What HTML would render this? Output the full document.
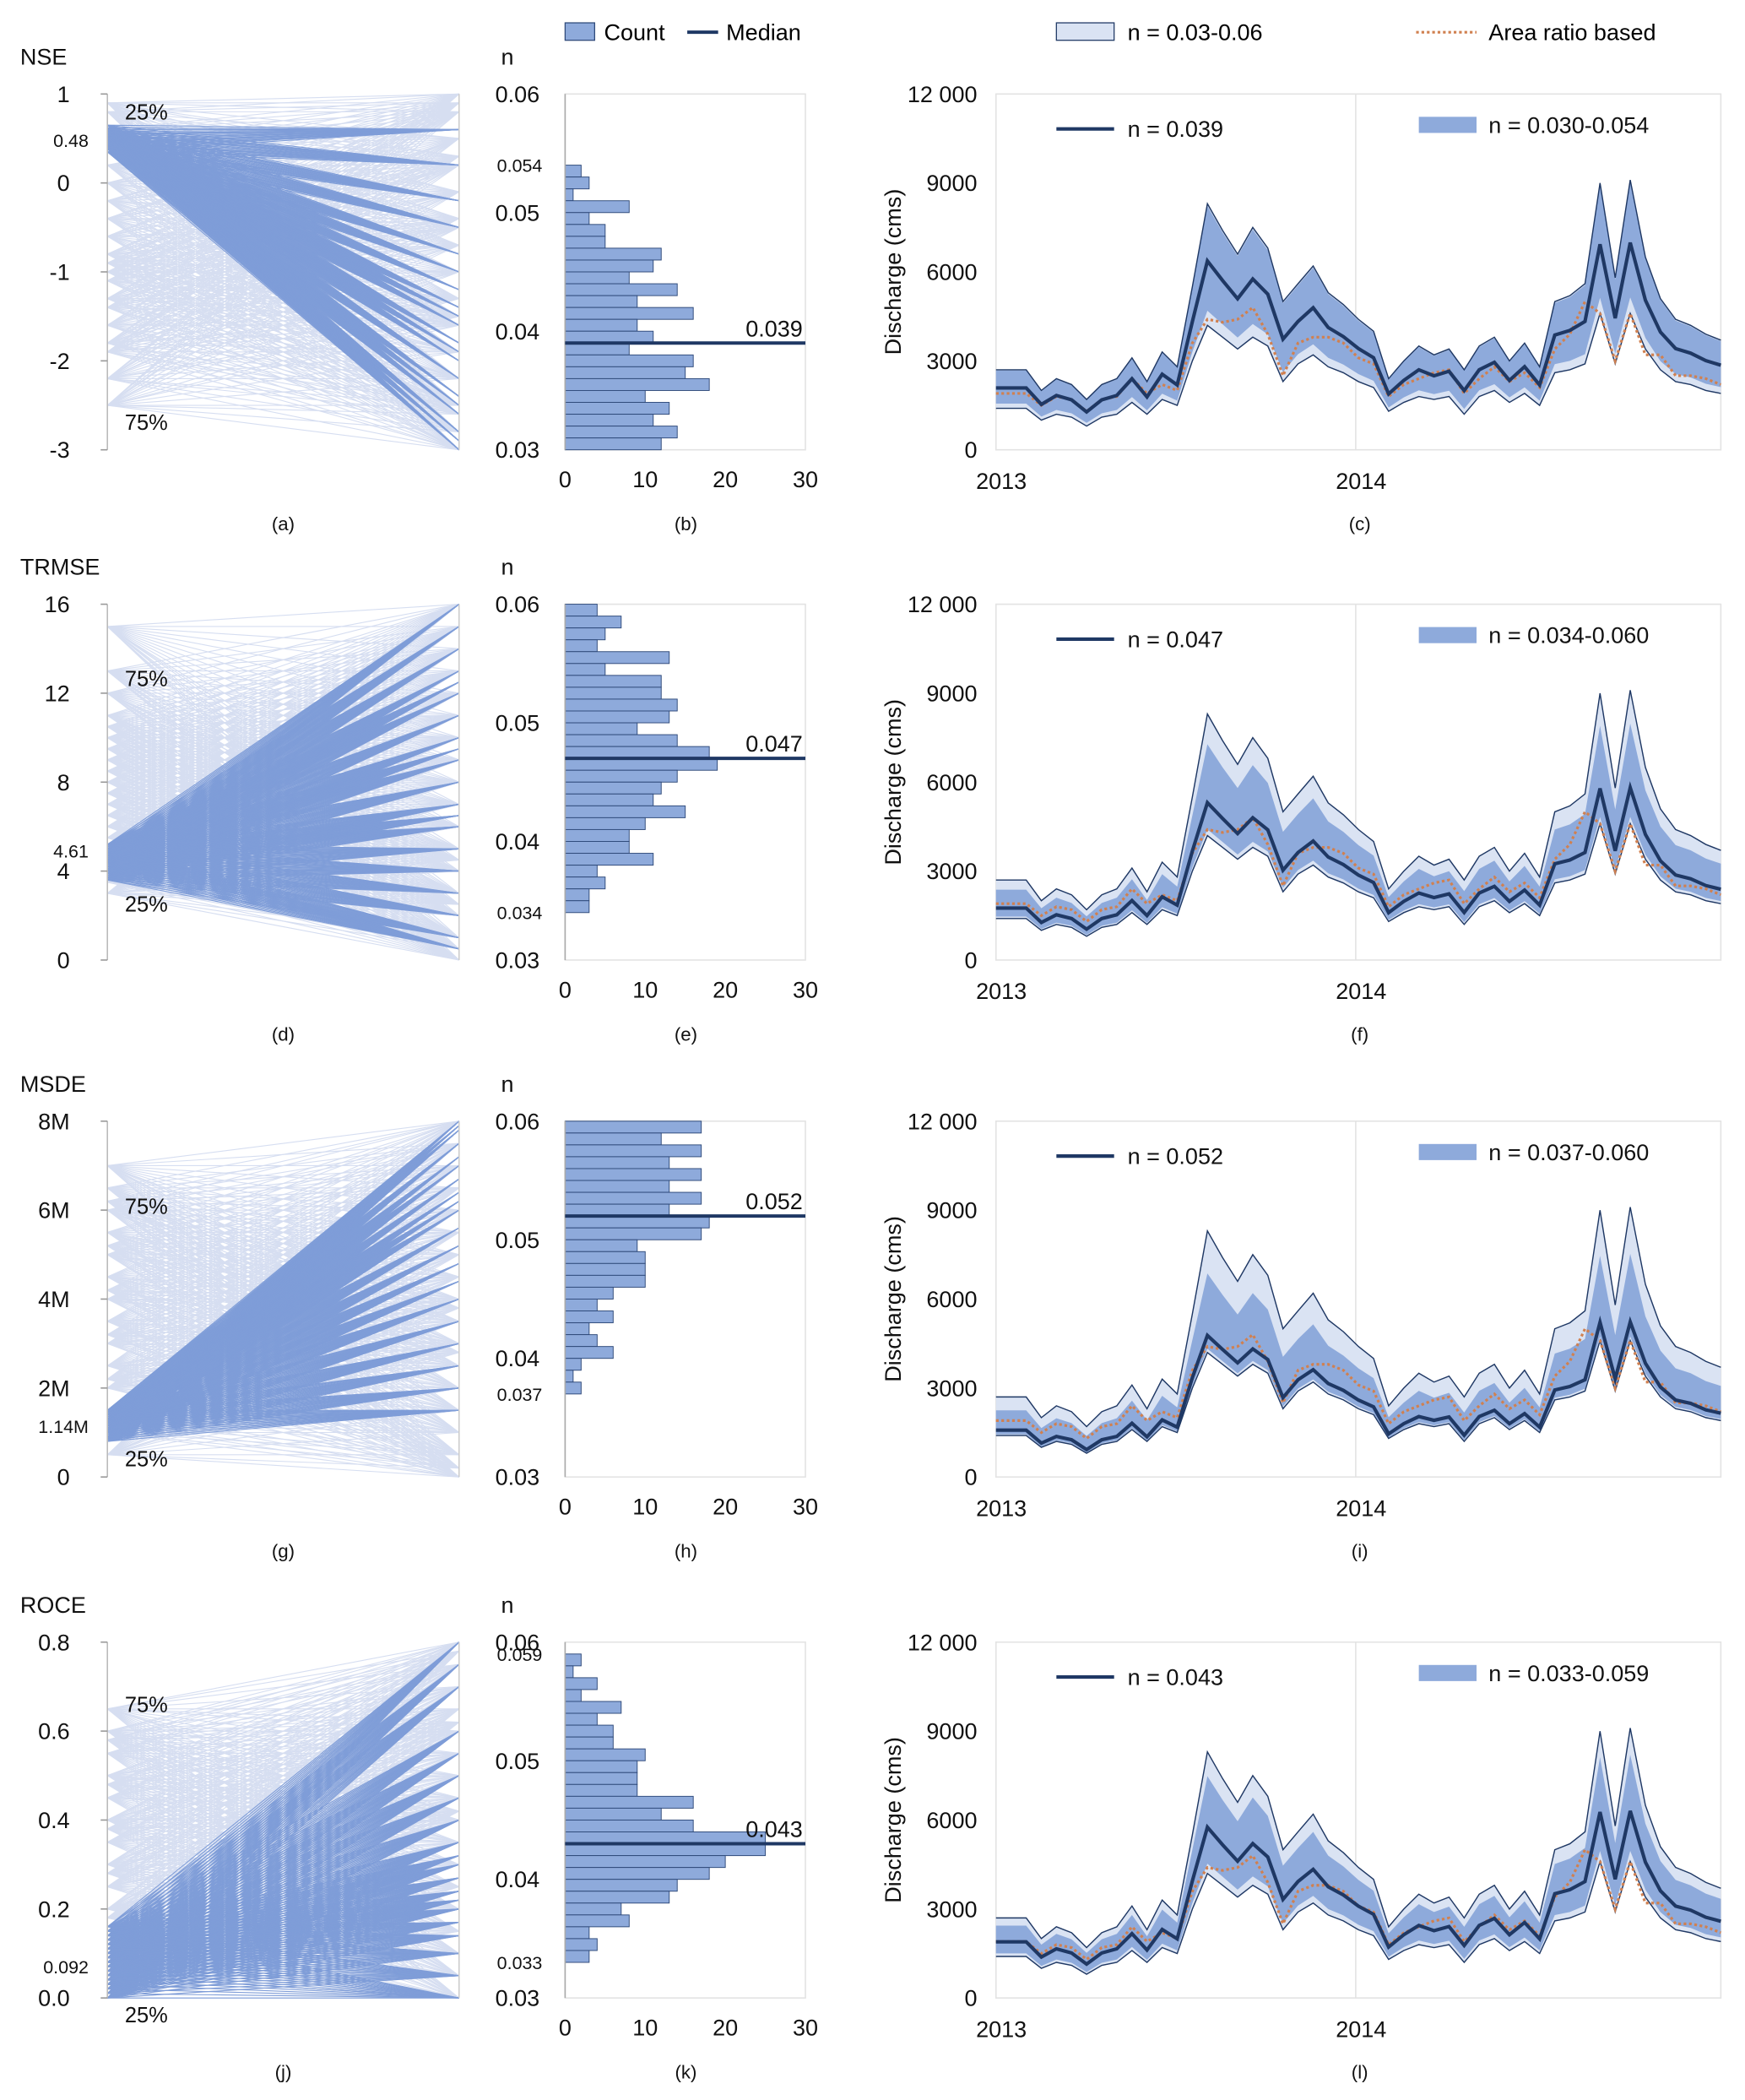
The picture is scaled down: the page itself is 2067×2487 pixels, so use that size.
<!DOCTYPE html>
<html><head><meta charset="utf-8"><style>
html,body{margin:0;padding:0;background:#fff;}
svg{display:block;font-family:"Liberation Sans",Arial,sans-serif;}
</style></head><body>
<svg id="fig" xmlns="http://www.w3.org/2000/svg" width="2067" height="2487" viewBox="0 0 1300 1564" preserveAspectRatio="none">
<g>
<rect x="421" y="17" width="22" height="13" fill="#8eaadb" stroke="#2f4a7a" stroke-width="0.8"/>
<text x="450" y="30" font-size="17">Count</text>
<line x1="512" y1="24" x2="535" y2="24" stroke="#1f3864" stroke-width="2.5"/>
<text x="541" y="30" font-size="17">Median</text>
</g>
<g>
<rect x="787" y="17" width="43" height="13" fill="#dae3f3" stroke="#1f3864" stroke-width="0.8"/>
<text x="840" y="30" font-size="17">n = 0.03-0.06</text>
<line x1="1055" y1="24" x2="1100" y2="24" stroke="#d08050" stroke-width="2" stroke-dasharray="2,2"/>
<text x="1109" y="30" font-size="17">Area ratio based</text>
</g>
</svg>
<script>
// ---------- data ----------
const histTop = [0.054, 0.060, 0.060, 0.059];
const histCounts1 = [2,3,1,8,3,5,5,12,11,8,14,9,16,9,11,8,16,15,18,10,13,11,14,12];
const histCounts2 = [4,7,5,4,13,5,12,12,14,13,9,14,18,19,14,12,11,15,10,8,8,11,4,5,3,3];
const histCounts3 = [17,12,17,13,17,13,17,13,18,17,9,10,10,10,6,4,6,3,4,6,2,1,2];
const histCounts4 = [2,1,4,2,7,4,6,6,10,9,9,9,16,12,16,25,25,20,18,14,13,7,8,3,4,3];
const histMedians = [0.039, 0.047, 0.052, 0.043];
const upperQ = [2.7,2.7,2.7,2.0,2.4,2.2,1.7,2.2,2.4,3.1,2.3,3.3,2.8,5.5,8.3,7.4,6.6,7.5,6.8,5.0,5.6,6.2,5.3,4.9,4.4,4.0,2.4,3.0,3.5,3.2,3.4,2.7,3.5,3.8,3.0,3.6,2.8,5.0,5.2,5.6,9.0,5.8,9.1,6.5,5.1,4.4,4.2,3.9,3.7];
const lowerQ = [1.4,1.4,1.4,1.0,1.2,1.1,0.8,1.1,1.2,1.6,1.2,1.7,1.5,3.0,4.2,3.8,3.4,3.8,3.5,2.3,2.9,3.2,2.8,2.6,2.3,2.1,1.3,1.6,1.8,1.7,1.8,1.2,1.8,2.0,1.6,1.9,1.5,2.6,2.7,2.9,4.6,2.9,4.6,3.4,2.7,2.3,2.2,2.0,1.9];
const areaQ = [1.9,1.9,1.9,1.5,1.8,1.7,1.3,1.7,1.8,2.4,1.9,2.2,2.0,3.6,4.4,4.3,4.4,4.8,3.9,2.5,3.6,3.8,3.8,3.6,3.1,2.9,1.8,2.2,2.4,2.6,2.7,1.9,2.4,2.8,2.3,2.6,2.1,3.4,3.9,5.0,4.6,3.0,4.6,3.2,3.2,2.5,2.5,2.4,2.2];
const medianFrac = [0.53, 0.27, 0.14, 0.38];
const bandLoFrac = [0.12, 0.05, 0.03, 0.08];
const bandHiFrac = [0.98, 0.75, 0.65, 0.80];
const medLabel = ["n = 0.039","n = 0.047","n = 0.052","n = 0.043"];
const bandLabel = ["n = 0.030-0.054","n = 0.034-0.060","n = 0.037-0.060","n = 0.033-0.059"];
const pcTitles = ["NSE","TRMSE","MSDE","ROCE"];
const pcMin = [-3, 0, 0, 0];
const pcMax = [1, 16, 8, 0.8];
const pcTicks = [[1,0,-1,-2,-3],[16,12,8,4,0],[8,6,4,2,0],[0.8,0.6,0.4,0.2,0.0]];
const pcTickLabels = [["1","0","-1","-2","-3"],["16","12","8","4","0"],["8M","6M","4M","2M","0"],["0.8","0.6","0.4","0.2","0.0"]];
const pcSpecial = [0.48, 4.61, 1.14, 0.092];
const pcSpecialLabel = ["0.48","4.61","1.14M","0.092"];
const pcTopPct = ["25%","75%","75%","75%"];
const pcBotPct = ["75%","25%","25%","25%"];
const darkL1 = [0.35,0.4,0.45,0.5,0.55,0.6,0.65,0.42,0.48,0.52,0.38,0.58,0.62,0.46,0.5,0.44,0.54,0.4,0.56,0.6];
const darkR1 = [-3,-2.8,-2.6,-2.4,-2.2,-2,-1.8,-1.6,-1.4,-1.2,-1,-0.8,-0.5,-0.2,0.2,0.6,-2.9,-2.5,-1.9,-1.5];
const lightL1 = [0.9,0.6,0.2,-0.2,-0.6,-0.9,-1.1,-1.3,-1.6,-1.9,-2.2,-2.5,0.8,0.4,0,-0.4,-0.8,-1.0,-1.4,-1.8];
const lightR1 = [1,0.8,0.5,0.2,-0.1,-0.4,-0.7,-1,-1.3,-1.6,-1.9,-2.2,-2.5,-2.8,-3,0.9,0.3,-0.5,-1.5,-2.6];
const darkL2 = [3.6,3.8,4.0,4.2,4.4,4.6,4.8,5.0,5.2,3.9,4.1,4.3,4.5,4.7,4.9,4.0,4.6,3.7,5.1,4.4];
const darkR2 = [16,15,14,13,12,11,10,9,8,7,6,5,4,3,2,1,0.5,12.5,9.5,6.5];
const lightL2 = [15,13,12,11,10,9,8,7,6,5.5,5,4.5,4,3.5,3,9.5,7.5,6.5,8.5,10.5];
const lightR2 = [16,14,12,10,8,6,4,2,0,1,3,5,7,9,11,13,15,0.5,2.5,4.5];
const darkL3 = [0.8,0.9,1.0,1.1,1.2,1.3,1.4,1.5,0.85,0.95,1.05,1.15,1.25,1.35,1.45,1.0,1.2,0.9,1.1,1.3];
const darkR3 = [8,7.8,7.5,7.2,7,6.7,6.4,6,5.6,5.2,4.8,4.4,4,3.5,3,2.5,2,1.5,7.9,6.2];
const lightL3 = [7,6.5,6,5.5,5,4.5,4,3.5,3,2.5,2,1.5,1,0.5,5.2,4.2,3.2,6.2,2.2,1.2];
const lightR3 = [8,7,6,5,4,3,2,1,0,0.5,1.5,2.5,3.5,4.5,5.5,6.5,7.5,0.2,2.8,3.8];
const darkL4 = [0,0.01,0.02,0.03,0.04,0.05,0.06,0.07,0.08,0.09,0.1,0.11,0.12,0.13,0.14,0.15,0.16,0.05,0.09,0.11];
const darkR4 = [0.8,0.75,0.7,0.6,0.55,0.5,0.45,0.4,0.35,0.3,0.27,0.24,0.2,0.17,0.14,0.1,0.05,0,0.22,0.32];
const lightL4 = [0.65,0.6,0.55,0.5,0.45,0.4,0.35,0.3,0.25,0.2,0.15,0.1,0.05,0,0.58,0.48,0.38,0.28,0.18,0.08];
const lightR4 = [0.8,0.7,0.6,0.5,0.4,0.3,0.2,0.1,0,0.05,0.15,0.25,0.35,0.45,0.55,0.65,0.75,0.78,0.62,0.42];

// ---------- layout ----------
const NS = 'http://www.w3.org/2000/svg';
const svg = document.getElementById('fig');
const rowTop = [70, 450, 835, 1223];
const rowBot = [335, 715, 1100, 1488];
const topPctY = [89, 511, 904, 1275];
const botPctY = [320, 679, 1092, 1506];
const specOff = [5, 0, 5, 12];
const letters = [["(a)","(b)","(c)"],["(d)","(e)","(f)"],["(g)","(h)","(i)"],["(j)","(k)","(l)"]];
const histSets = [histCounts1, histCounts2, histCounts3, histCounts4];
const pcSets = [[darkL1,darkR1,lightL1,lightR1],[darkL2,darkR2,lightL2,lightR2],[darkL3,darkR3,lightL3,lightR3],[darkL4,darkR4,lightL4,lightR4]];

function el(tag, attrs, parent) {
  const e = document.createElementNS(NS, tag);
  for (const k in attrs) e.setAttribute(k, attrs[k]);
  (parent || svg).appendChild(e);
  return e;
}
function txt(x, y, s, size, anchor, parent) {
  const t = el('text', {x: x, y: y, 'font-size': size, 'text-anchor': anchor || 'start', fill: '#111'}, parent);
  t.textContent = s;
  return t;
}

for (let r = 0; r < 4; r++) {
  const T = rowTop[r], B = rowBot[r];
  const gp = el('g', {});
  
  
  const yP = v => B - (v - pcMin[r]) / (pcMax[r] - pcMin[r]) * (B - T);
  const xL = 80, xR = 342;
  const [dL, dR, lL, lR] = pcSets[r];
  for (let i = 0; i < lL.length; i++) {
    for (let j = 0; j < lR.length; j++) {
      const ln = el('line', {x1: xL, y1: yP(lL[i]), x2: xR, y2: yP(lR[j]), stroke: '#d6def1', 'stroke-width': 0.7}, gp);
      
      
    }
  }
  for (let i = 0; i < dL.length; i++) {
    for (let j = 0; j < dR.length; j++) {
      const ln = el('line', {x1: xL, y1: yP(dL[i]), x2: xR, y2: yP(dR[j]), stroke: '#7f9dd8', 'stroke-width': 0.7}, gp);
      
      
    }
  }
  el('line', {x1: xL, y1: T, x2: xL, y2: B, stroke: '#bbb', 'stroke-width': 1}, gp);
  el('line', {x1: xR, y1: T, x2: xR, y2: B, stroke: '#ccc', 'stroke-width': 1}, gp);
  const title = txt(15, T - 22, pcTitles[r], 17, 'start', gp);
  
  
  pcTicks[r].forEach((v, i) => {
    el('line', {x1: xL - 5, y1: yP(v), x2: xL, y2: yP(v), stroke: '#999'}, gp);
    txt(52, yP(v) + 6, pcTickLabels[r][i], 17, 'end', gp);
  });
  txt(66, yP(pcSpecial[r]) + specOff[r], pcSpecialLabel[r], 13.5, 'end', gp);
  txt(93, topPctY[r], pcTopPct[r], 16, 'start', gp);
  txt(93, botPctY[r], pcBotPct[r], 16, 'start', gp);
  txt(211, B + 60, letters[r][0], 14, 'middle', gp);

  const gh = el('g', {});
  
  
  const hx0 = 421, hx1 = 600;
  const xH = c => hx0 + c / 30 * (hx1 - hx0);
  const yH = v => B - (v - 0.03) / 0.03 * (B - T);
  el('rect', {x: hx0, y: T, width: hx1 - hx0, height: B - T, fill: 'none', stroke: '#e3e3e3'}, gh);
  histSets[r].forEach((c, i) => {
    const top = histTop[r] - i * 0.001;
    const b = el('rect', {x: hx0, y: yH(top), width: xH(c) - hx0, height: yH(top - 0.001) - yH(top), fill: '#8eaadb', stroke: '#2f4a7a', 'stroke-width': 0.6}, gh);
    
    
  });
  el('line', {x1: hx0, y1: T, x2: hx0, y2: B, stroke: '#aaa'}, gh);
  [0.06, 0.05, 0.04, 0.03].forEach(v => txt(402, yH(v) + 6, v.toFixed(2), 17, 'end', gh));
  const specials = [[0.054], [0.034], [0.037], [0.059, 0.033]][r];
  specials.forEach(v => txt(404, yH(v) + 5, v.toFixed(3), 13.5, 'end', gh));
  [0, 10, 20, 30].forEach(v => txt(xH(v), B + 28, String(v), 17, 'middle', gh));
  txt(378, T - 22, 'n', 17, 'middle', gh);
  const ml = el('line', {x1: hx0, y1: yH(histMedians[r]), x2: hx1, y2: yH(histMedians[r]), stroke: '#1f3864', 'stroke-width': 2.5}, gh);
  
  
  txt(598, yH(histMedians[r]) - 5, histMedians[r].toFixed(3), 17, 'end', gh);
  txt(511, B + 60, letters[r][1], 14, 'middle', gh);

  const gt = el('g', {});
  
  
  const tx0 = 742, tx1 = 1282;
  const xT = i => tx0 + i / (upperQ.length - 1) * (tx1 - tx0);
  const yT = v => B - v / 12 * (B - T);
  el('rect', {x: tx0, y: T, width: tx1 - tx0, height: B - T, fill: 'none', stroke: '#e3e3e3'}, gt);
  el('line', {x1: 1010, y1: T, x2: 1010, y2: B, stroke: '#e3e3e3'}, gt);
  const path = (arr) => arr.map((v, i) => (i ? 'L' : 'M') + xT(i).toFixed(1) + ',' + yT(v).toFixed(1)).join('');
  const band = (hi, lo) => path(hi) + lo.map((v, i) => i).reverse().map(i => 'L' + xT(i).toFixed(1) + ',' + yT(lo[i]).toFixed(1)).join('') + 'Z';
  const outer = el('path', {d: band(upperQ, lowerQ), fill: '#dae3f3', stroke: 'none'}, gt);
  
  
  const inHi = upperQ.map((u, i) => lowerQ[i] + bandHiFrac[r] * (u - lowerQ[i]));
  const inLo = upperQ.map((u, i) => lowerQ[i] + bandLoFrac[r] * (u - lowerQ[i]));
  const inner = el('path', {d: band(inHi, inLo), fill: '#8eaadb', stroke: 'none'}, gt);
  
  
  el('path', {d: path(upperQ), fill: 'none', stroke: '#1f3864', 'stroke-width': 0.9}, gt);
  el('path', {d: path(lowerQ), fill: 'none', stroke: '#1f3864', 'stroke-width': 0.9}, gt);
  const ar = el('path', {d: path(areaQ), fill: 'none', stroke: '#d08050', 'stroke-width': 2, 'stroke-dasharray': '2,2'}, gt);
  
  
  const med = upperQ.map((u, i) => lowerQ[i] + medianFrac[r] * (u - lowerQ[i]));
  const md = el('path', {d: path(med), fill: 'none', stroke: '#1f3864', 'stroke-width': 2.6}, gt);
  
  
  [[0, '0'], [3, '3000'], [6, '6000'], [9, '9000'], [12, '12 000']].forEach(([v, s]) => txt(728, yT(v) + 6, s, 17, 'end', gt));
  txt(746, B + 29, '2013', 17, 'middle', gt);
  txt(1014, B + 29, '2014', 17, 'middle', gt);
  const yt = txt(0, 0, 'Discharge (cms)', 17, 'middle', gt);
  yt.setAttribute('transform', 'translate(671,' + ((T + B) / 2) + ') rotate(-90)');
  el('line', {x1: 787, y1: T + 26, x2: 830, y2: T + 26, stroke: '#1f3864', 'stroke-width': 2.6}, gt);
  txt(840, T + 32, medLabel[r], 17, 'start', gt);
  el('rect', {x: 1057, y: T + 17, width: 43, height: 12, fill: '#8eaadb'}, gt);
  txt(1109, T + 29, bandLabel[r], 17, 'start', gt);
  txt(1013, B + 60, letters[r][2], 14, 'middle', gt);
}
</script>
</body></html>
